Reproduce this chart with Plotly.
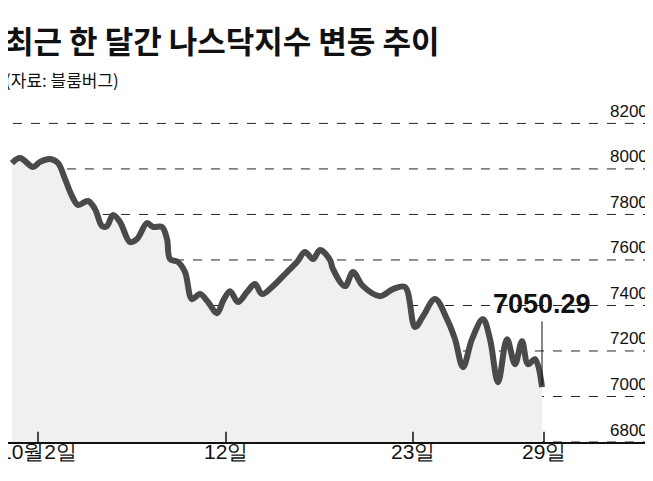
import plotly.graph_objects as go

t = [12,20,33,40,50,58,65,72,78,88,95,102,107,113,120,130,137,147,153,162,167,170,178,185,192,200,208,217,223,230,238,247,255,262,273,287,297,305,313,320,330,333,345,353,363,380,393,405,415,423,435,447,455,463,472,483,490,498,507,515,522,528,535,542]
nasdaq = [8026,8048,8009,8031,8044,8026,7956,7881,7842,7859,7824,7749,7749,7798,7767,7679,7692,7762,7745,7745,7692,7604,7591,7547,7428,7450,7415,7366,7419,7463,7415,7459,7494,7450,7485,7547,7591,7635,7604,7644,7600,7560,7485,7547,7485,7441,7472,7481,7305,7353,7428,7340,7252,7129,7252,7340,7252,7063,7252,7142,7243,7142,7164,7041]
tick_pos = [38,226,413,544]
tick_text = ["10월2일","12일","23일","29일"]
y_ticks = [6800,7000,7200,7400,7600,7800,8000,8200]
last_label = "7050.29"

num_font = "Liberation Sans Narrow, Arial Narrow, Liberation Sans, sans-serif"
fig = go.Figure()
fig.add_trace(go.Scatter(x=t, y=nasdaq, mode="lines", line=dict(color="#4a4a4a", width=6, shape="spline"),
                         fill="tozeroy", fillcolor="#f0f0f0"))
for v in y_ticks:
    fig.add_shape(type="line", xref="paper", x0=-0.02, x1=1, y0=v, y1=v, line=dict(color="#222", width=1, dash="dash"), layer="below")
    fig.add_annotation(x=0.983, xref="paper", xanchor="right", y=v, yshift=12, text=str(v), showarrow=False,
                       font=dict(family=num_font, size=17, color="#111"))
for p, lab in zip(tick_pos, tick_text):
    fig.add_shape(type="line", x0=p, x1=p, y0=6800, y1=6845, line=dict(color="#111", width=1.5))
    fig.add_annotation(x=p, y=0, yref="paper", yshift=-23, text=lab, showarrow=False,
                       font=dict(family=num_font, size=21, color="#111"))
fig.add_shape(type="line", x0=t[-1], x1=t[-1], y0=nasdaq[-1]+10, y1=7330, line=dict(color="#111", width=1))
fig.add_annotation(x=t[-1], y=7330, yanchor="bottom", text=last_label, showarrow=False,
                   font=dict(family=num_font, size=27, color="#111", weight="bold"))
fig.add_annotation(x=-0.008, xref="paper", y=1, yref="paper", yanchor="top", xanchor="left",
                   text="최근 한 달간 나스닥지수 변동 추이", showarrow=False, yshift=100,
                   font=dict(family="Noto Sans CJK KR", size=31, color="#111", weight="bold"))
fig.add_annotation(x=-0.008, xref="paper", y=1, yref="paper", yanchor="top", xanchor="left",
                   text="(자료: 블룸버그)", showarrow=False, yshift=50,
                   font=dict(family="Noto Sans CJK KR", size=17, color="#111"))
fig.update_layout(width=653, height=481, margin=dict(l=0, r=0, t=107, b=47),
                  plot_bgcolor="white", paper_bgcolor="white", showlegend=False,
                  xaxis=dict(range=[8,661], showticklabels=False, showgrid=False, zeroline=False,
                             showline=True, linecolor="#111", linewidth=2, ticks=""),
                  yaxis=dict(range=[6800,8237], showticklabels=False, showgrid=False, zeroline=False))
fig.write_html("out.html")
